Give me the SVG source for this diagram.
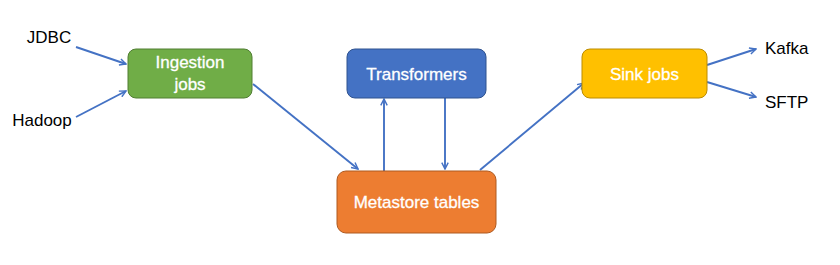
<svg xmlns="http://www.w3.org/2000/svg" width="840" height="265" viewBox="0 0 840 265">
<style>
.box{stroke-width:1}
.lbl{font-family:"Liberation Sans",Arial,sans-serif;font-size:17px;fill:#fff;text-anchor:middle;stroke:#fff;stroke-width:0.3}
.txt{font-family:"Liberation Sans",Arial,sans-serif;font-size:17px;fill:#000}
.edge{stroke:#4472C4;stroke-width:1.9;fill:none;marker-end:url(#ah)}
</style>
<defs>
<marker id="ah" viewBox="0 0 10 10" refX="9" refY="5" markerWidth="8" markerHeight="8" orient="auto" markerUnits="userSpaceOnUse">
<path d="M1,1 L9,5 L1,9" fill="none" stroke="#4472C4" stroke-width="1.8"/>
</marker>
</defs>
<rect width="840" height="265" fill="#fff"/>
<g id="connectors">
<line class="edge" x1="76" y1="47" x2="126" y2="64"/>
<line class="edge" x1="76" y1="117" x2="126" y2="91"/>
<line class="edge" x1="253" y1="84" x2="358" y2="169"/>
<line class="edge" x1="384" y1="171" x2="384" y2="99"/>
<line class="edge" x1="445" y1="98" x2="445" y2="169"/>
<line class="edge" x1="480" y1="170" x2="584" y2="83"/>
<line class="edge" x1="707" y1="65" x2="756" y2="49"/>
<line class="edge" x1="707" y1="82" x2="756" y2="97"/>
</g>
<g id="jdbc"><text class="txt" x="49" y="43" text-anchor="middle">JDBC</text></g>
<g id="hadoop"><text class="txt" x="42" y="126" text-anchor="middle">Hadoop</text></g>
<g id="ingestion">
<rect class="box" x="128" y="49" width="124" height="49" rx="8" fill="#70AD47" stroke="#507E32"/>
<text class="lbl" x="190" y="68">Ingestion</text>
<text class="lbl" x="190" y="90">jobs</text>
</g>
<g id="transformers">
<rect class="box" x="347" y="49" width="139" height="49" rx="8" fill="#4472C4" stroke="#2F528F"/>
<text class="lbl" x="416.5" y="80">Transformers</text>
</g>
<g id="metastore">
<rect class="box" x="337" y="171" width="159" height="62" rx="9" fill="#ED7D31" stroke="#AE5A21"/>
<text class="lbl" x="416.5" y="208">Metastore tables</text>
</g>
<g id="sink">
<rect class="box" x="582" y="49" width="125" height="49" rx="8" fill="#FFC000" stroke="#BC8C00"/>
<text class="lbl" x="644.5" y="80">Sink jobs</text>
</g>
<g id="kafka"><text class="txt" x="765" y="54">Kafka</text></g>
<g id="sftp"><text class="txt" x="765" y="108">SFTP</text></g>
</svg>
